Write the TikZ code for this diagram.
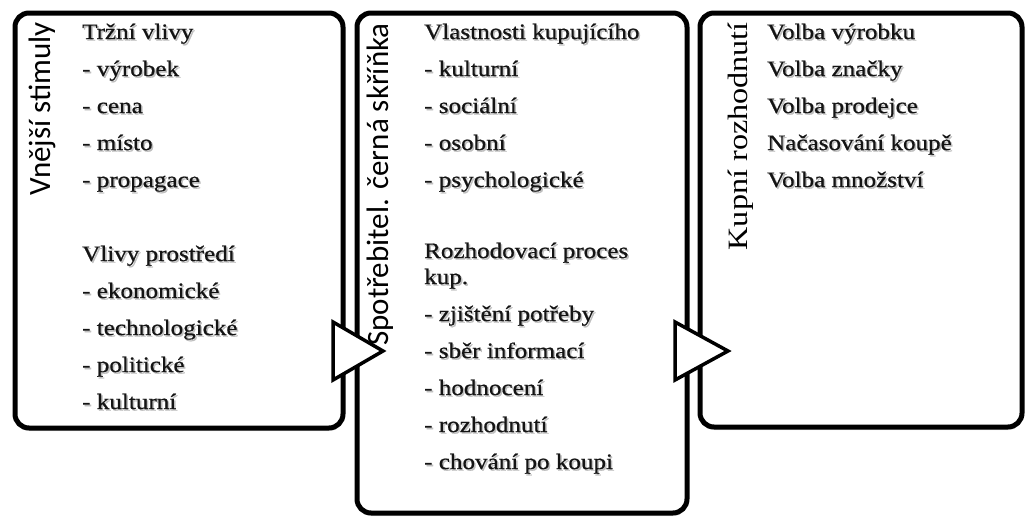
\documentclass[tikz,border=0pt]{standalone}
\usepackage{fontspec}
\setmainfont{Liberation Serif}[FakeStretch=1.15]
\newfontfamily\itemfont{Liberation Serif}[FakeStretch=1.14, FakeBold=0.7]
\newfontfamily\labelsans{Carlito}
\usetikzlibrary{shadows}
\newcommand\shd[1]{\makebox[0pt][l]{\kern1.5pt\raisebox{-1.6pt}{\textcolor{black!25}{#1}}}#1}
\tikzset{
  stagebox/.style={draw=black, line width=5pt, rounded corners=14pt, fill=white,
    inner sep=0pt, outer sep=0pt,
    drop shadow={opacity=0.22, shadow xshift=0.5pt, shadow yshift=-3pt}},
  item/.style={anchor=base west, inner sep=0pt, text=black!92,
    font=\itemfont\fontsize{22}{26}\selectfont, align=left},
  sidelabel/.style={anchor=base east, rotate=90, inner sep=0pt,
    font=\labelsans\fontsize{31}{31}\selectfont},
  sidelabelserif/.style={anchor=base east, rotate=90, inner sep=0pt,
    font=\fontsize{28}{28}\selectfont},
  arrowtri/.style={draw=black, line width=3.5pt, fill=white, line join=miter},
}
\begin{document}
\begin{tikzpicture}[x=1pt,y=-1pt]
\useasboundingbox (0,0) rectangle (1025,517);
% boxes
\node[stagebox, minimum width=328pt, minimum height=415pt] (b1) at (179,220.5) {};
\node[stagebox, minimum width=330pt, minimum height=500pt] (b2) at (522,263) {};
\node[stagebox, minimum width=322pt, minimum height=414pt] (b3) at (861,220) {};
% side labels
\node[sidelabel] (l1) at (50,22) {Vnější stimuly};
\node[sidelabel] (l2) at (388,23) {Spotřebitel. černá skříňka};
\node[sidelabelserif] (l3) at (747,22) {Kupní rozhodnutí};
% box 1 items
\node[item] (a1) at (82,39) {\shd{Tržní vlivy}};
\node[item] (a2) at (82,76) {\shd{- výrobek}};
\node[item] (a3) at (82,113) {\shd{- cena}};
\node[item] (a4) at (82,150) {\shd{- místo}};
\node[item] (a5) at (82,187) {\shd{- propagace}};
\node[item] (a6) at (82,261) {\shd{Vlivy prostředí}};
\node[item] (a7) at (82,298) {\shd{- ekonomické}};
\node[item] (a8) at (82,335) {\shd{- technologické}};
\node[item] (a9) at (82,372) {\shd{- politické}};
\node[item] (a10) at (82,409) {\shd{- kulturní}};
% box 2 items
\node[item] (c1) at (424,39) {\shd{Vlastnosti kupujícího}};
\node[item] (c2) at (424,76) {\shd{- kulturní}};
\node[item] (c3) at (424,113) {\shd{- sociální}};
\node[item] (c4) at (424,150) {\shd{- osobní}};
\node[item] (c5) at (424,187) {\shd{- psychologické}};
\node[item] (c6) at (424,284) {\shd{Rozhodovací proces}\\\shd{kup.}};
\node[item] (c7) at (424,321) {\shd{- zjištění potřeby}};
\node[item] (c8) at (424,358) {\shd{- sběr informací}};
\node[item] (c9) at (424,395) {\shd{- hodnocení}};
\node[item] (c10) at (424,432) {\shd{- rozhodnutí}};
\node[item] (c11) at (424,469) {\shd{- chování po koupi}};
% box 3 items
\node[item] (d1) at (767,39) {\shd{Volba výrobku}};
\node[item] (d2) at (767,76) {\shd{Volba značky}};
\node[item] (d3) at (767,113) {\shd{Volba prodejce}};
\node[item] (d4) at (767,150) {\shd{Načasování koupě}};
\node[item] (d5) at (767,187) {\shd{Volba množství}};
% arrow triangles
\coordinate (t1) at (383,351);
\coordinate (t2) at (728,351);
\draw[arrowtri] (t1) -- ++(-50,-29) -- ++(0,58) -- cycle;
\draw[arrowtri] (t2) -- ++(-53,-29) -- ++(0,58) -- cycle;
\end{tikzpicture}
\end{document}
